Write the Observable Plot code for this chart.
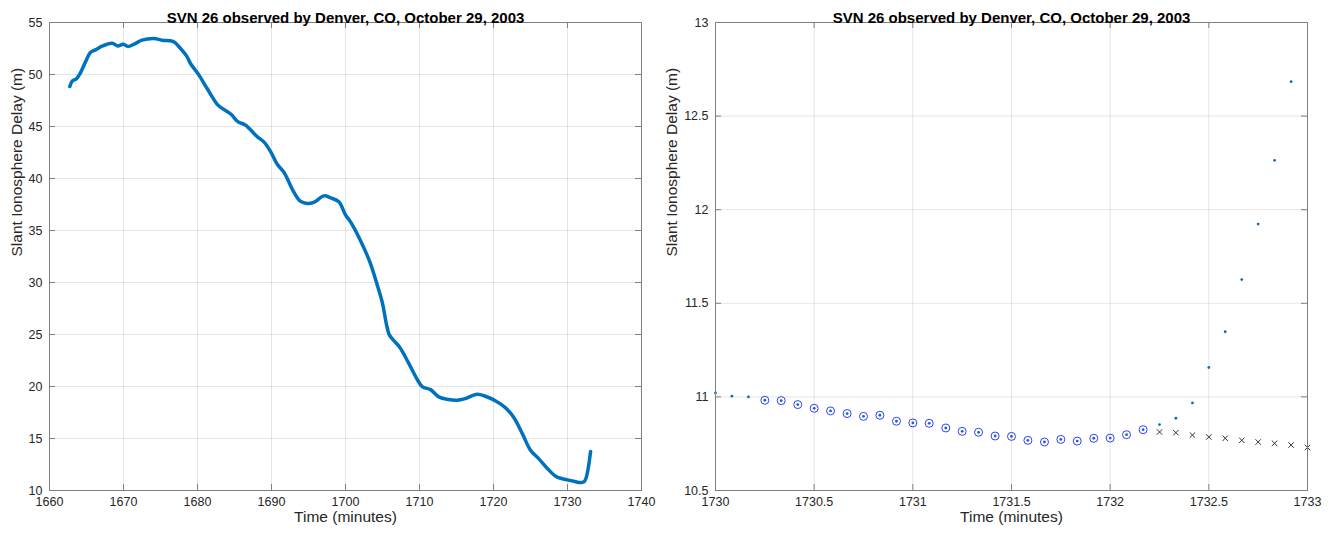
<!DOCTYPE html>
<html><head><meta charset="utf-8">
<script src="https://cdn.jsdelivr.net/npm/d3@7"></script>
<script src="https://cdn.jsdelivr.net/npm/@observablehq/plot@0.6"></script>
<style>
body{margin:0;background:#fff;}
#wrap{display:flex;width:1333px;height:535px;overflow:hidden;}
#wrap svg{display:block;}
</style></head><body><div id="wrap"></div>
<script>
const title = "SVN 26 observed by Denver, CO, October 29, 2003";
const xLabel = "Time (minutes)";
const yLabel = "Slant Ionosphere Delay (m)";

// Left panel: full pass
const leftTime = [1662.75,1663.07,1663.65,1664.2,1664.86,1665.5,1666.2,1667.1,1668.47,1669.2,1670.0,1670.6,1671.4,1672.5,1674.1,1675.2,1676.6,1677.0,1677.9,1678.6,1679.05,1680.2,1681.3,1682.7,1683.1,1684.5,1685.4,1686.5,1687.0,1688.1,1689.0,1689.9,1690.8,1691.7,1693.0,1693.9,1694.8,1695.7,1697.1,1698.0,1699.1,1700.0,1700.68,1702.0,1703.2,1704.3,1705.0,1705.5,1705.9,1706.3,1707.3,1708.5,1709.7,1710.4,1711.5,1712.6,1713.7,1715.1,1716.2,1717.8,1718.9,1720.3,1721.6,1722.7,1723.9,1725.0,1726.1,1727.3,1728.4,1729.2,1730.0,1731.0,1731.67,1732.0,1732.25,1732.5,1732.75,1732.92,1733.12];
const leftDelay = [48.85,49.36,49.6,50.19,51.2,52.1,52.37,52.72,53.0,52.75,52.9,52.7,52.9,53.3,53.46,53.3,53.2,53.05,52.34,51.7,51.06,49.94,48.65,47.1,46.86,46.2,45.5,45.13,44.8,44.0,43.5,42.56,41.35,40.58,38.72,37.82,37.6,37.7,38.33,38.14,37.76,36.5,35.83,34.07,32.14,29.74,28.0,26.1,25.0,24.6,23.8,22.3,20.67,19.96,19.7,19.0,18.78,18.68,18.84,19.26,19.06,18.61,17.97,17.07,15.47,13.87,13.07,12.1,11.37,11.15,11.02,10.86,10.76,10.78,10.85,11.16,11.93,12.69,13.75];
const leftXTicks = [1660,1670,1680,1690,1700,1710,1720,1730,1740];
const leftYTicks = [10,15,20,25,30,35,40,45,50,55];

// Right panel: last three minutes
const dotTime = [1730,1730.083,1730.167,1730.25,1730.333,1730.417,1730.5,1730.583,1730.667,1730.75,1730.833,1730.917,1731,1731.083,1731.167,1731.25,1731.333,1731.417,1731.5,1731.583,1731.667,1731.75,1731.833,1731.917,1732,1732.083,1732.167,1732.25,1732.333,1732.417,1732.5,1732.583,1732.667,1732.75,1732.833,1732.917];
const dotDelay = [11.021,11.004,11.0,10.982,10.98,10.959,10.939,10.925,10.911,10.896,10.902,10.87,10.861,10.859,10.834,10.816,10.811,10.791,10.789,10.768,10.759,10.773,10.764,10.779,10.78,10.798,10.825,10.852,10.886,10.968,11.157,11.348,11.627,11.923,12.264,12.684];
const circleTime = [1730.25,1730.333,1730.417,1730.5,1730.583,1730.667,1730.75,1730.833,1730.917,1731,1731.083,1731.167,1731.25,1731.333,1731.417,1731.5,1731.583,1731.667,1731.75,1731.833,1731.917,1732,1732.083,1732.167];
const circleDelay = [10.982,10.98,10.959,10.939,10.925,10.911,10.896,10.902,10.87,10.861,10.859,10.834,10.816,10.811,10.791,10.789,10.768,10.759,10.773,10.764,10.779,10.78,10.798,10.825];
const crossTime = [1732.25,1732.333,1732.417,1732.5,1732.583,1732.667,1732.75,1732.833,1732.917,1733];
const crossDelay = [10.8125,10.809,10.796,10.786,10.779,10.768,10.759,10.752,10.743,10.73];
const rightXTicks = [1730,1730.5,1731,1731.5,1732,1732.5,1733];
const rightYTicks = [10.5,11,11.5,12,12.5,13];

const zip = (a, b) => a.map((t, i) => ({t, v: b[i]}));
const leftData = zip(leftTime, leftDelay);
const dots = zip(dotTime, dotDelay);
const circles = zip(circleTime, circleDelay);
const crosses = zip(crossTime, crossDelay);

const FONT = "'Liberation Sans', Arial, Helvetica, sans-serif";
const AXIS = "#808080";
const TEXT = "#262626";

function panel({width, marginLeft, marginRight, xTicks, yTicks, yLabelDx, data}) {
  const H = 535, mt = 22, mb = 45;
  const innerW = width - marginLeft - marginRight, innerH = H - mt - mb;
  const tl = 6;
  return Plot.plot({
    width, height: H, marginLeft, marginRight, marginTop: mt, marginBottom: mb,
    style: {fontFamily: FONT, fontSize: "12.5px", color: TEXT, background: "#fff"},
    x: {domain: [xTicks[0], xTicks[xTicks.length - 1]]},
    y: {domain: [yTicks[0], yTicks[yTicks.length - 1]]},
    marks: [
      Plot.gridX({ticks: xTicks, stroke: "#000", strokeOpacity: 0.1}),
      Plot.gridY({ticks: yTicks, stroke: "#000", strokeOpacity: 0.1}),
      ...data,
      Plot.frame({stroke: AXIS}),
      Plot.ruleX(xTicks, {x: d => d, insetTop: innerH - tl, stroke: AXIS}),
      Plot.ruleX(xTicks, {x: d => d, insetBottom: innerH - tl, stroke: AXIS}),
      Plot.ruleY(yTicks, {y: d => d, insetRight: innerW - tl, stroke: AXIS}),
      Plot.ruleY(yTicks, {y: d => d, insetLeft: innerW - tl, stroke: AXIS}),
      Plot.axisX({ticks: xTicks, tickSize: 0, tickPadding: 7, tickFormat: d => String(d), label: null, fill: TEXT}),
      Plot.axisY({ticks: yTicks, tickSize: 0, tickPadding: 7, tickFormat: d => String(d), label: null, fill: TEXT}),
      Plot.text([title], {text: d => d, frameAnchor: "top", dy: -10, fontWeight: "bold", fontSize: 15, fill: "#000"}),
      Plot.text([xLabel], {text: d => d, frameAnchor: "bottom", dy: 31, fontSize: 15.5, fill: TEXT}),
      Plot.text([yLabel], {text: d => d, frameAnchor: "left", dx: yLabelDx, rotate: -90, fontSize: 15.5, fill: TEXT})
    ]
  });
}

const left = panel({
  width: 660, marginLeft: 49, marginRight: 19,
  xTicks: leftXTicks, yTicks: leftYTicks, yLabelDx: -32,
  data: [
    Plot.line(leftData, {x: "t", y: "v", stroke: "#0072BD", strokeWidth: 3.5, curve: "catmull-rom"})
  ]
});

const right = panel({
  width: 673, marginLeft: 55, marginRight: 26,
  xTicks: rightXTicks, yTicks: rightYTicks, yLabelDx: -43,
  data: [
    Plot.dot(dots, {x: "t", y: "v", r: 1.4, fill: "#0072BD", stroke: null}),
    Plot.dot(circles, {x: "t", y: "v", r: 4, stroke: "#3a3aff", strokeWidth: 1, fill: "none"}),
    Plot.dot(crosses, {x: "t", y: "v", symbol: "times", r: 2.6, stroke: "#333", strokeWidth: 1})
  ]
});

const wrap = document.getElementById("wrap");
wrap.appendChild(left);
wrap.appendChild(right);
</script>
</body></html>
